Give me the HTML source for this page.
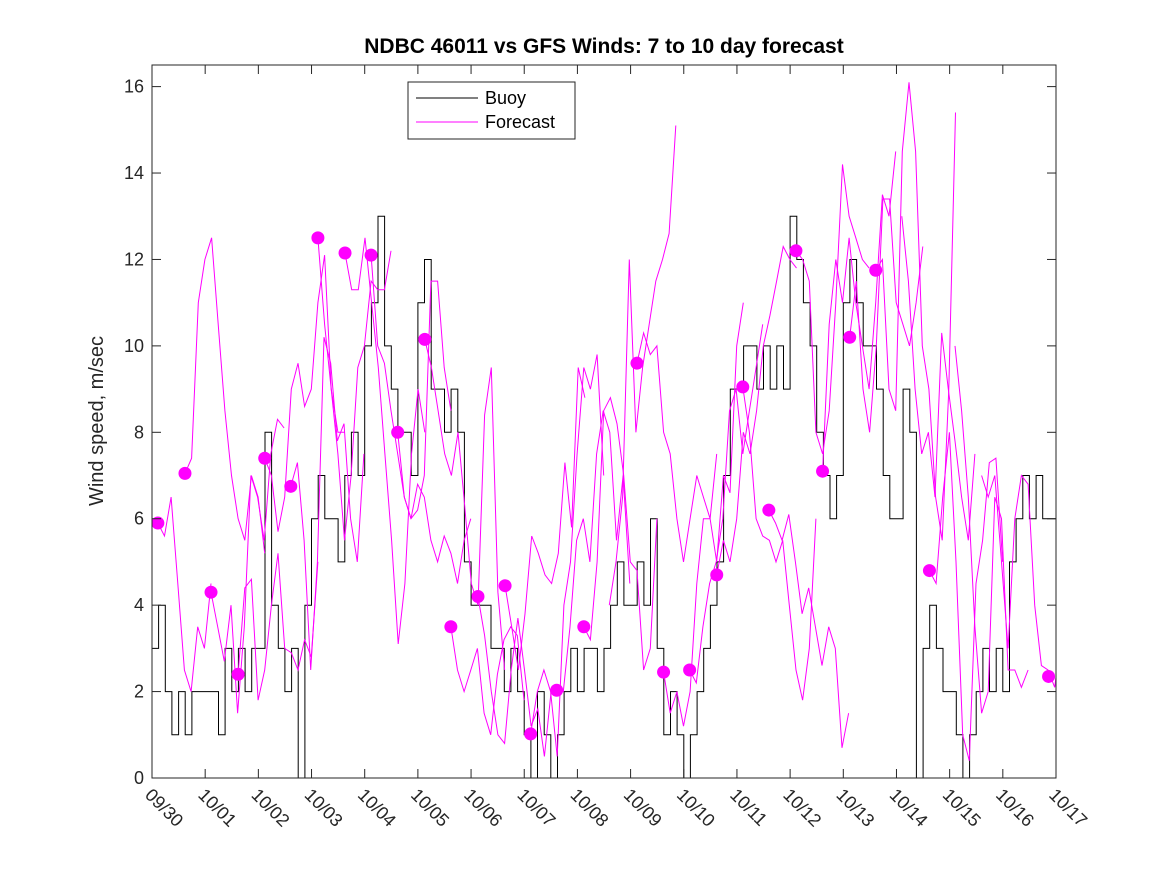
<!DOCTYPE html>
<html><head><meta charset="utf-8"><style>
body{margin:0;background:#fff;}
svg{display:block;font-family:"Liberation Sans","DejaVu Sans",sans-serif;}
</style></head><body>
<svg id="chart" width="1167" height="875" viewBox="0 0 1167 875"></svg>
<script>
const xTickLabels=["09/30","10/01","10/02","10/03","10/04","10/05","10/06","10/07","10/08","10/09","10/10","10/11","10/12","10/13","10/14","10/15","10/16","10/17"];
const yTicks=[0,2,4,6,8,10,12,14,16];
const buoyStep=0.125;
const buoyValues=[3,4,2,1,2,1,2,2, 2,2,1,3,2,3,2,3, 3,8,4,3,2,3,0,4, 6,7,6,6,5,7,8,7, 10,11,13,10,9,8,8,7, 11,12,9,9,8,9,8,5, 4,4,4,3,3,2,3,2, 1,0,2,1,0,1,2,3, 2,3,3,2,3,4,5,4, 4,5,4,6,3,1,2,1, 0,1,2,3,4,5,7,9, 9,10,10,9,10,9,10,9, 13,12,11,10,8,7,6,7, 11,12,11,10,10,9,7,6, 6,9,8,0,3,4,3,2, 2,1,0,1,2,3,2,3, 2,5,6,7,6,7,6,6, 3];
const dotDays=[0.11,0.62,1.11,1.62,2.12,2.61,3.12,3.63,4.12,4.62,5.13,5.62,6.13,6.64,7.12,7.61,8.12,9.12,9.62,10.11,10.62,11.11,11.6,12.11,12.61,13.12,13.61,14.62,16.86];
const dotValues=[5.9,7.05,4.3,2.4,7.4,6.75,12.5,12.15,12.1,8.0,10.15,3.5,4.2,4.45,1.02,2.03,3.5,9.6,2.45,2.5,4.7,9.05,6.2,12.2,7.1,10.2,11.75,4.8,2.35];
const fcStarts=[0.11,0.62,1.11,1.62,2.12,2.61,3.12,3.63,4.12,4.62,5.13,5.62,6.13,6.64,7.12,7.61,8.12,9.12,8.6,9.62,10.11,10.62,11.11,11.6,12.11,12.61,13.12,13.61,14.1,14.62,15.1,15.6];
const fcValues=[
[5.9,5.6,6.5,4.5,2.5,2,3.5,3,4.5],
[7.05,7.4,11,12,12.5,10.5,8.5,7,6,5.5,7,6.5,5.2],
[4.3,3.5,2.7,4.0,1.5,3.5,7.0,6.5,5.5,7.5,8.3,8.1],
[2.4,4.4,4.6,1.8,2.5,4,5.2,3.0,2.9,2.5,3.2,2.8,5.0],
[7.4,7.0,5.7,6.5,9.0,9.6,8.6,9.0,11.0,12.1,9.0,8.0,8.0],
[6.75,7.3,5.5,2.5,5.0,10.2,9.6,7.8,8.2,6.0,5.0,7.5],
[12.5,10.5,9,7.5,5.5,7,9.5,10,11.5,11.3,11.3,12.2],
[12.15,11.3,11.3,12.5,11,9.5,7.5,5.5,3.1,4.5,7.5,9,8],
[12.1,10,9.6,8.5,7.5,6.5,6.0,6.2,7.0,11.5,11.5,9.5,8.5],
[8.0,6.5,6.0,6.8,6.5,5.5,5.0,5.6,5.2,4.5,5.5,6.0],
[10.15,9.5,8.5,7.5,7.0,8,6.3,4.5,4.0,8.4,9.5,4.3,2.5],
[3.5,2.5,2.0,2.5,3.0,1.5,1.0,2.4,3.2,3.5,3.3,1.8],
[4.2,3.3,2.0,1.0,0.8,2.5,3.7,2.5,1.2,1.6,0.5,2.0],
[4.45,3.5,2.5,3.8,5.6,5.2,4.7,4.5,5.2,7.3,5.8,9.5,8.8],
[1.02,2.0,2.5,2.0,0.5,4.0,5.0,7.5,9.5,9.0,9.8,7.0],
[2.03,2.0,3.5,5.5,6.0,5.0,7.5,8.5,8.0,5.5,7.0,4.5],
[3.5,3.2,5.0,8.5,8.8,8.2,7.0,5.0,4.8,2.5,3.0,6.0],
[9.6,10.3,9.8,10.0,8.0,7.5,6.0,5.0,6.0,7.0,6.5,6.0,7.5],
[4.0,5.0,6.5,12.0,8.0,9.5,10.5,11.5,12.0,12.6,15.1],
[2.45,1.5,2.0,1.2,2.0,4.5,6.0,6.0,5.0,7.0,6.6,10.0,11.0],
[2.5,2.2,3.5,4.5,5.0,6.0,8.5,9.0,7.5,8.5,9.5,10.5],
[4.7,5.5,5.0,6.0,8.0,7.5,8.5,10.0,10.7,11.5,12.3,12.0,11.8],
[9.05,8.0,6.0,5.6,5.5,5.0,5.5,4.0,2.5,1.8,3.0,6.0],
[6.2,5.9,5.5,6.1,5.0,3.8,4.4,3.5,2.6,3.5,3.0,0.7,1.5],
[12.2,12.0,11.5,8.0,7.5,8.5,11.0,14.2,13.0,12.5,12.0,11.8],
[7.1,10.5,12.0,11.0,12.5,11.0,10.0,9.0,11.0,13.5,13.0,14.5],
[10.2,11.5,9.0,8.0,10.0,13.4,13.4,11.0,10.5,10.0,11.0,12.3],
[11.75,12.0,9.0,8.5,14.5,16.1,14.5,10.0,9.0,6.5,5.5,9.0,15.4],
[13.0,11.5,9.0,7.5,8.0,6.5,10.3,9.0,7.8,6.5,5.5,7.5],
[4.8,4.5,6.5,8.0,5.0,1.0,0.4,4.5,5.5,7.3,7.4,5.0],
[10.0,8.5,6.5,3.5,1.5,2.0,6.5,6.0,2.5,2.5,2.1,2.5],
[7.0,6.5,7.0,5.0,3.0,6.0,7.0,6.8,4.0,2.6,2.5,2.1,3.3]
];
const fcStep=0.125;
const X0=152,X1=1056,Y0=778,YT=65,DAYS=17,YMAX=16.5;
const sx=d=>X0+(d/DAYS)*(X1-X0);
const sy=v=>Y0-(v/YMAX)*(Y0-YT);
const svg=document.getElementById('chart');
const NS='http://www.w3.org/2000/svg';
function mk(tag,attrs,parent){const e=document.createElementNS(NS,tag);for(const k in attrs)e.setAttribute(k,attrs[k]);(parent||svg).appendChild(e);return e;}
mk('rect',{x:X0,y:YT,width:X1-X0,height:Y0-YT,fill:'#fff',stroke:'none'});
const clip=mk('clipPath',{id:'pc'});mk('rect',{x:X0,y:YT,width:X1-X0,height:Y0-YT},clip);
const plot=mk('g',{'clip-path':'url(#pc)'});
let d='';
buoyValues.forEach((v,i)=>{const x=sx(i*buoyStep),y=sy(v);d+=(i?'H'+x.toFixed(1)+'V'+y.toFixed(1):'M'+x.toFixed(1)+','+y.toFixed(1));});
const bl=mk('path',{d:d,fill:'none',stroke:'#000','stroke-width':1},plot);


fcValues.forEach((arr,j)=>{
  const pts=arr.map((v,i)=>sx(fcStarts[j]+i*fcStep).toFixed(1)+','+sy(v).toFixed(1)).join(' ');
  const p=mk('polyline',{points:pts,fill:'none',stroke:'#ff00ff','stroke-width':1},plot);
  
  
});
dotValues.forEach((v,i)=>{
  const c=mk('circle',{cx:sx(dotDays[i]),cy:sy(v),r:6.5,fill:'#ff00ff'},plot);
  
  
});
mk('rect',{x:X0,y:YT,width:X1-X0,height:Y0-YT,fill:'none',stroke:'#262626','stroke-width':1});
yTicks.forEach(v=>{
  const y=sy(v);
  mk('line',{x1:X0,x2:X0+9,y1:y,y2:y,stroke:'#262626'});
  mk('line',{x1:X1,x2:X1-9,y1:y,y2:y,stroke:'#262626'});
  const t=mk('text',{x:X0-8,y:y+6,'text-anchor':'end','font-size':18,fill:'#262626'});
  t.textContent=v;
  
  
});
xTickLabels.forEach((lab,i)=>{
  const x=sx(i);
  mk('line',{x1:x,x2:x,y1:Y0,y2:Y0-9,stroke:'#262626'});
  mk('line',{x1:x,x2:x,y1:YT,y2:YT+9,stroke:'#262626'});
  const t=mk('text',{x:x-8,y:Y0+18,'font-size':18,fill:'#262626',transform:`rotate(45 ${x-8} ${Y0+18})`});
  t.textContent=lab;
  
  
});
</script>
<svg style="position:absolute;left:0;top:0" width="1167" height="875">
<text x="604" y="53" text-anchor="middle" font-size="21" font-weight="bold" fill="#000" font-family="Liberation Sans, sans-serif">NDBC 46011 vs GFS Winds: 7 to 10 day forecast</text>
<text transform="rotate(-90 103 421)" x="103" y="421" text-anchor="middle" font-size="20" fill="#262626" font-family="Liberation Sans, sans-serif">Wind speed, m/sec</text>
<g>
<rect x="408" y="82" width="167" height="57" fill="#fff" stroke="#262626"/>
<line x1="416" x2="478" y1="98" y2="98" stroke="#000"/>
<text x="485" y="104" font-size="18" fill="#000" font-family="Liberation Sans, sans-serif">Buoy</text>
<line x1="416" x2="478" y1="122" y2="122" stroke="#ff00ff"/>
<text x="485" y="128" font-size="18" fill="#000" font-family="Liberation Sans, sans-serif">Forecast</text>
</g>
</svg>
</body></html>
